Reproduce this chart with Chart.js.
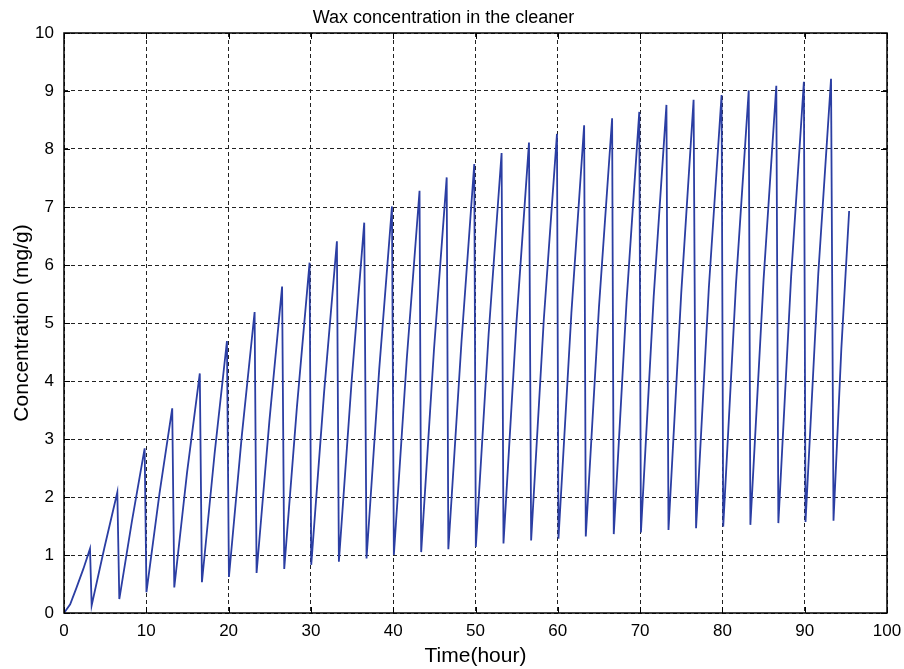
<!DOCTYPE html>
<html>
<head>
<meta charset="utf-8">
<script src="https://cdn.jsdelivr.net/npm/chart.js@4/dist/chart.umd.min.js"></script>
<style>
  html, body { margin: 0; padding: 0; background: #fff; }
  #wrap { width: 904px; height: 669px; }
</style>
</head>
<body>
<div id="wrap"><canvas id="wax-chart"></canvas></div>
<script>
// time (hour) and concentration (mg/g)
var timeHours = [
  0, 0.75, 1.5, 2.35, 3.16,
  3.36, 4.9, 6.48,
  6.72, 8.25, 9.8,
  10.02, 11.6, 13.15,
  13.4, 14.95, 16.5,
  16.76, 18.3, 19.8,
  20.04, 21.6, 23.16,
  23.4, 24.95, 26.5,
  26.76, 28.3, 29.84,
  30.04, 31.6, 33.16,
  33.4, 34.95, 36.48,
  36.76, 38.3, 39.85,
  40.08, 41.65, 43.2,
  43.4, 44.95, 46.5,
  46.7, 48.3, 49.85,
  50.04, 51.6, 53.17,
  53.4, 54.95, 56.5,
  56.76, 58.3, 59.9,
  60.08, 61.65, 63.2,
  63.4, 65.0, 66.6,
  66.8, 68.35, 69.9,
  70.1, 71.65, 73.2,
  73.45, 75.0, 76.5,
  76.8, 78.35, 79.9,
  80.1, 81.65, 83.2,
  83.4, 85.0, 86.55,
  86.8, 88.35, 89.9,
  90.1, 91.65, 93.2,
  93.5, 94.45, 95.4
];
var concentration = [
  0, 0.15, 0.43, 0.76, 1.11,
  0.13, 1.12, 2.08,
  0.24, 1.58, 2.84,
  0.36, 2.06, 3.53,
  0.44, 2.42, 4.13,
  0.53, 2.75, 4.69,
  0.62, 3.05, 5.19,
  0.69, 3.30, 5.63,
  0.76, 3.55, 6.04,
  0.83, 3.80, 6.41,
  0.885, 4.0, 6.73,
  0.94, 4.2, 7.01,
  1.0, 4.38, 7.28,
  1.05, 4.53, 7.51,
  1.10, 4.68, 7.74,
  1.14, 4.82, 7.93,
  1.2, 4.95, 8.11,
  1.25, 5.06, 8.26,
  1.28, 5.17, 8.41,
  1.32, 5.27, 8.53,
  1.36, 5.36, 8.64,
  1.39, 5.45, 8.76,
  1.43, 5.52, 8.85,
  1.46, 5.60, 8.93,
  1.49, 5.67, 9.01,
  1.52, 5.74, 9.09,
  1.55, 5.80, 9.16,
  1.57, 5.85, 9.21,
  1.59, 4.55, 6.93
];
var xTicks = [0, 10, 20, 30, 40, 50, 60, 70, 80, 90, 100];
var yTicks = [0, 1, 2, 3, 4, 5, 6, 7, 8, 9, 10];

var fontName = '"Liberation Sans", Arial, Helvetica, sans-serif';

// box round the plot and small inward ticks, like matlab
var boxPlugin = {
  id: 'boxTicks',
  afterDraw: function(chart) {
    var c = chart.ctx;
    var a = chart.chartArea;
    var xs = chart.scales.x;
    var ys = chart.scales.y;
    var len = 6;
    c.save();
    c.strokeStyle = '#000';
    c.lineWidth = 1;
    c.setLineDash([]);
    c.beginPath();
    xTicks.forEach(function(v) {
      var px = Math.round(xs.getPixelForValue(v)) + 0.5;
      c.moveTo(px, a.bottom); c.lineTo(px, a.bottom - len);
      c.moveTo(px, a.top); c.lineTo(px, a.top + len);
    });
    yTicks.forEach(function(v) {
      var py = Math.round(ys.getPixelForValue(v)) + 0.5;
      c.moveTo(a.left, py); c.lineTo(a.left + len, py);
      c.moveTo(a.right, py); c.lineTo(a.right - len, py);
    });
    c.stroke();
    c.lineWidth = 1.5;
    c.strokeRect(a.left, a.top, a.right - a.left, a.bottom - a.top);
    c.restore();
  }
};

var ctx = document.getElementById('wax-chart').getContext('2d');
var waxChart = new Chart(ctx, {
  type: 'line',
  data: {
    datasets: [{
      label: 'Wax concentration',
      data: timeHours.map(function(t, i) { return { x: t, y: concentration[i] }; }),
      borderColor: '#2b3ea3',
      borderWidth: 1.8,
      pointRadius: 0,
      tension: 0,
      fill: false
    }]
  },
  options: {
    responsive: true,
    maintainAspectRatio: false,
    animation: false,
    layout: { padding: { left: 0, right: 17, top: 0, bottom: 0 } },
    plugins: {
      legend: { display: false },
      tooltip: { enabled: false },
      title: {
        display: true,
        text: 'Wax concentration in the cleaner',
        color: '#000',
        font: { family: fontName, size: 18, weight: 'normal' },
        padding: { top: 7, bottom: 4.4 }
      }
    },
    scales: {
      x: {
        type: 'linear',
        min: 0,
        max: 100,
        afterFit: function(scale) {
          scale.height = 56;
          scale.paddingLeft = 0;
          scale.paddingRight = 0;
        },
        afterBuildTicks: function(scale) {
          scale.ticks = xTicks.map(function(v) { return { value: v }; });
        },
        ticks: {
          color: '#000',
          font: { family: fontName, size: 17 },
          padding: 8,
          maxRotation: 0
        },
        grid: { color: '#222', lineWidth: 1, drawTicks: false },
        border: { display: false, dash: [4, 3] },
        title: {
          display: true,
          text: 'Time(hour)',
          color: '#000',
          font: { family: fontName, size: 21 },
          padding: { top: 0, bottom: 0 }
        }
      },
      y: {
        min: 0,
        max: 10,
        afterFit: function(scale) {
          scale.width = 64;
          scale.paddingTop = 0;
          scale.paddingBottom = 0;
        },
        afterBuildTicks: function(scale) {
          scale.ticks = yTicks.map(function(v) { return { value: v }; });
        },
        ticks: {
          color: '#000',
          font: { family: fontName, size: 17 },
          padding: 10
        },
        grid: { color: '#222', lineWidth: 1, drawTicks: false },
        border: { display: false, dash: [4, 3] },
        title: {
          display: true,
          text: 'Concentration (mg/g)',
          color: '#000',
          font: { family: fontName, size: 21 },
          padding: { top: 10, bottom: 0 }
        }
      }
    }
  },
  plugins: [boxPlugin]
});
</script>
</body>
</html>
